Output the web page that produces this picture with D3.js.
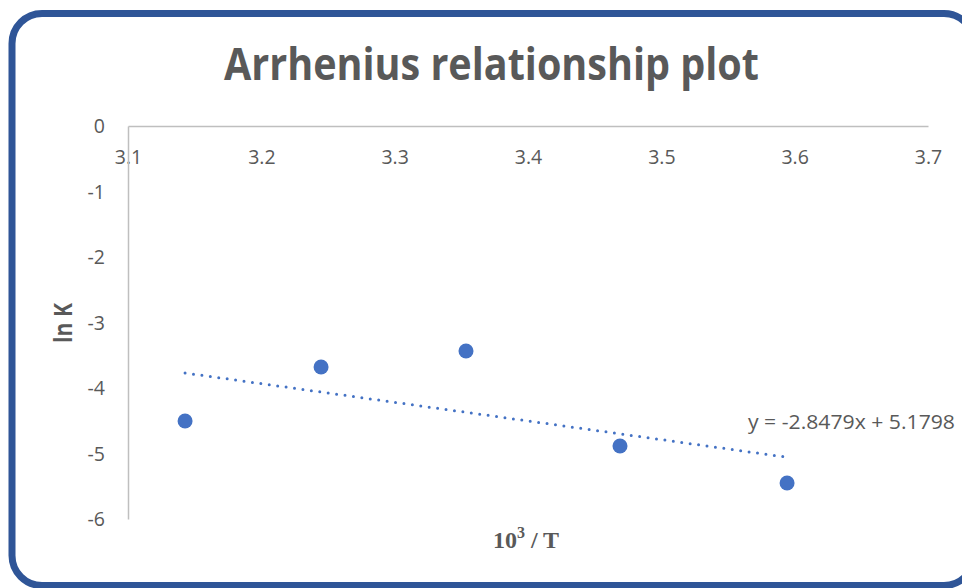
<!DOCTYPE html>
<html lang="en">
<head>
    <meta charset="UTF-8">
    <title>Arrhenius relationship plot</title>
    <script src="https://d3js.org/d3.v7.min.js"></script>
    <style>
        body {
            margin: 0;
            overflow: hidden;
            background: white;
            font-family: "Open Sans", sans-serif;
        }
        svg {
            display: block;
        }
    </style>
</head>
<body>
  <div id="chart"></div>
    <script>
        // values
        const invT = [3.1428, 3.2448, 3.3535, 3.4690, 3.5943];
        const lnK = [-4.504, -3.680, -3.435, -4.885, -5.450];
        const xTicks = [3.1, 3.2, 3.3, 3.4, 3.5, 3.6, 3.7];
        const yTicks = [0, -1, -2, -3, -4, -5, -6];
        const slope = -2.8479;
        const intercept = 5.1798;

        const W = 962, H = 588;
        const grey = "#595959";
        const svg = d3.select("#chart").append("svg")
            .attr("width", W)
            .attr("height", H);

        // rounded frame: left side plus the start of the right-hand corners
        const fr = 30, fL = 12, fT = 13.5, fB = 585.5, fR = 974;
        svg.append("path")
            .attr("d", `M${fR - fr},${fT} H${fL + fr} A${fr},${fr} 0 0 0 ${fL},${fT + fr}
                        V${fB - fr} A${fr},${fr} 0 0 0 ${fL + fr},${fB} H${fR - fr}
                        A${fr},${fr} 0 0 0 ${fR},${fB - fr}
                        M${fR - fr},${fT} A${fr},${fr} 0 0 1 ${fR},${fT + fr}`)
            .attr("fill", "none")
            .attr("stroke", "#2F5597")
            .attr("stroke-width", 7);

        const xScale = d3.scaleLinear().domain([3.1, 3.7]).range([128, 928]);
        const yScale = d3.scaleLinear().domain([0, -6]).range([126, 519]);

        // title
        svg.append("text")
            .attr("x", 224).attr("y", 80)
            .attr("textLength", 535)
            .attr("lengthAdjust", "spacingAndGlyphs")
            .style("font-size", "44px")
            .style("font-weight", "bold")
            .style("fill", grey)
            .text("Arrhenius relationship plot");

        // x axis on y = 0, labels hang below
        const xAxis = svg.append("g")
            .attr("transform", `translate(0,${yScale(0)})`)
            .call(d3.axisBottom(xScale).tickValues(xTicks).tickSize(0)
                .tickFormat(d3.format(".1f")));
        xAxis.select(".domain").attr("stroke", "#BFBFBF").attr("stroke-width", 1.5);
        xAxis.selectAll("text")
            .attr("y", 31).attr("dy", "0.35em")
            .style("font-family", "'Open Sans', sans-serif")
            .style("font-size", "19.5px")
            .style("fill", grey);

        const yAxis = svg.append("g")
            .attr("transform", `translate(${xScale(3.1)},0)`)
            .call(d3.axisLeft(yScale).tickValues(yTicks).tickSize(0).tickPadding(23)
                .tickFormat(d => String(d)));
        yAxis.select(".domain").attr("stroke", "#BFBFBF").attr("stroke-width", 1.5);
        yAxis.selectAll("text")
            .attr("dy", "0.35em")
            .style("font-family", "'Open Sans', sans-serif")
            .style("font-size", "19.5px")
            .style("fill", grey);

        // axis titles
        svg.append("text")
            .attr("transform", `translate(72,343) rotate(-90)`)
            .attr("textLength", 40)
            .attr("lengthAdjust", "spacingAndGlyphs")
            .style("font-size", "25px")
            .style("font-weight", "bold")
            .style("fill", grey)
            .text("ln K");

        const xt = svg.append("text")
            .attr("x", 526).attr("y", 548)
            .attr("text-anchor", "middle")
            .style("font-family", "'Liberation Serif', 'DejaVu Serif', serif")
            .style("font-size", "24px")
            .style("font-weight", "bold")
            .style("fill", grey);
        xt.append("tspan").text("10");
        xt.append("tspan").attr("dy", -10).style("font-size", "16px").text("3");
        xt.append("tspan").attr("dy", 10).text(" / T");

        // linear trendline
        const x0 = d3.min(invT), x1 = d3.max(invT);
        svg.append("line")
            .attr("x1", xScale(x0)).attr("y1", yScale(slope * x0 + intercept))
            .attr("x2", xScale(x1)).attr("y2", yScale(slope * x1 + intercept))
            .attr("stroke", "#4472C4")
            .attr("stroke-width", 3)
            .attr("stroke-linecap", "round")
            .attr("stroke-dasharray", "0,8.5");

        svg.append("text")
            .attr("x", 748).attr("y", 429)
            .attr("textLength", 207)
            .attr("lengthAdjust", "spacingAndGlyphs")
            .style("font-size", "20px")
            .style("fill", grey)
            .text(`y = ${slope}x + ${intercept}`);

        // points
        svg.selectAll("circle.pt")
            .data(invT.map((x, i) => [x, lnK[i]]))
            .enter().append("circle")
            .attr("class", "pt")
            .attr("cx", d => xScale(d[0]))
            .attr("cy", d => yScale(d[1]))
            .attr("r", 7.5)
            .style("fill", "#4472C4");
    </script>
</body>
</html>
